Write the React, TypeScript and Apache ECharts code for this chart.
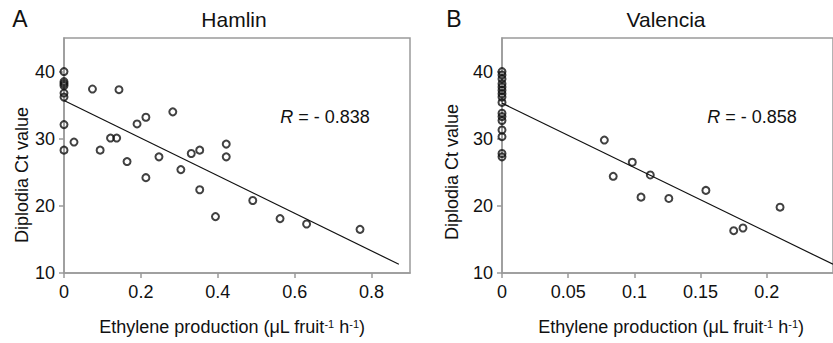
import React, { useEffect, useRef } from "react";
import * as echarts from "echarts";

const hamlinX = [0, 0, 0, 0, 0, 0, 0, 0, 0.026, 0.074, 0.143, 0.094, 0.121, 0.137, 0.164, 0.19, 0.213, 0.213, 0.247, 0.283, 0.304, 0.331, 0.353, 0.353, 0.394, 0.422, 0.422, 0.491, 0.562, 0.631, 0.77];
const hamlinY = [40, 38.5, 38.2, 37.9, 36.8, 36.2, 32.1, 28.3, 29.5, 37.4, 37.3, 28.3, 30.1, 30.1, 26.6, 32.2, 33.2, 24.2, 27.3, 34.0, 25.4, 27.8, 28.3, 22.4, 18.4, 29.2, 27.3, 20.8, 18.1, 17.3, 16.5];
const valenciaX = [0, 0, 0, 0, 0, 0, 0, 0, 0, 0, 0, 0, 0, 0, 0, 0, 0.0773, 0.084, 0.0984, 0.105, 0.112, 0.126, 0.154, 0.175, 0.182, 0.21];
const valenciaY = [40.0, 39.5, 38.9, 38.2, 37.7, 37.2, 36.7, 36.2, 35.4, 33.8, 33.3, 32.7, 31.3, 30.3, 27.8, 27.3, 29.8, 24.4, 26.5, 21.3, 24.6, 21.1, 22.3, 16.3, 16.7, 19.8];
const hamlinFitX = [0, 0.871];
const hamlinFitY = [35.7, 11.3];
const valenciaFitX = [0, 0.25];
const valenciaFitY = [35.3, 11.3];
const titles = ["Hamlin", "Valencia"];
const panelLetters = ["A", "B"];
const rLabels = ["-0.838", "-0.858"];
const yName = "Diplodia Ct value";

const FONT = "Liberation Sans, Arial, sans-serif";
const TXT = "#111";
const AX = "#9a9a9a";

function pairs(xs: number[], ys: number[]) {
  return xs.map((x, i) => [x, ys[i]]);
}

export default function App() {
  const ref = useRef<HTMLDivElement>(null);
  useEffect(() => {
    document.body.style.margin = "0";
    const chart = echarts.init(ref.current!, null, { renderer: "svg" });
    const xAxisCommon = {
      type: "value" as const,
      min: 0,
      splitLine: { show: false },
      axisLine: { show: true, lineStyle: { color: AX, width: 1.5 } },
      axisTick: { show: true, inside: false, length: 5, lineStyle: { color: AX, width: 1.5 } },
      axisLabel: { color: TXT, fontSize: 18, fontFamily: FONT, margin: 10, showMaxLabel: false },
    };
    const yAxisCommon = {
      type: "value" as const,
      min: 10,
      max: 45,
      interval: 10,
      splitLine: { show: false },
      axisLine: { show: true, lineStyle: { color: AX, width: 1.5 } },
      axisTick: { show: true, inside: false, length: 5, lineStyle: { color: AX, width: 1.5 } },
      axisLabel: { color: TXT, fontSize: 18, fontFamily: FONT, margin: 9, showMaxLabel: false },
    };
    const scatterStyle = {
      type: "scatter" as const,
      symbol: "circle",
      symbolSize: 7,
      itemStyle: { color: "rgba(0,0,0,0)", borderColor: "#111", borderWidth: 2 },
    };
    const lineStyle = {
      type: "line" as const,
      symbol: "none",
      lineStyle: { color: "#111", width: 1.2 },
    };
    const xNameRich = {
      text: "{a|Ethylene production (μL fruit}{s|-1}{a| h}{s|-1}{a|)}",
      rich: {
        a: { fontSize: 18, fontFamily: FONT, fill: TXT, color: TXT },
        s: { fontSize: 11, fontFamily: FONT, fill: TXT, color: TXT, verticalAlign: "top" },
      },
    };
    const text = (x: number, y: number, t: string, size: number, extra: any = {}) => ({
      type: "text",
      x,
      y,
      style: {
        text: t,
        fontSize: size,
        fontFamily: FONT,
        fill: TXT,
        align: "center",
        verticalAlign: "middle",
        textAlign: "center",
        textVerticalAlign: "middle",
        ...extra,
      },
    });
    const rRich = (v: string) => ({
      text: `{i|R}{a| = ${v.replace("-", "- ")}}`,
      rich: {
        i: { fontSize: 18, fontFamily: FONT, fontStyle: "italic", fill: TXT, color: TXT },
        a: { fontSize: 18, fontFamily: FONT, fill: TXT, color: TXT },
      },
    });
    chart.setOption({
      animation: false,
      grid: [
        { left: 64, top: 38, width: 346, height: 235, show: true, borderColor: AX, borderWidth: 1.5, backgroundColor: "transparent" },
        { left: 502, top: 38, width: 370, height: 235, show: true, borderColor: AX, borderWidth: 1.5, backgroundColor: "transparent" },
      ],
      xAxis: [
        { ...xAxisCommon, gridIndex: 0, max: 0.9, interval: 0.2 },
        { ...xAxisCommon, gridIndex: 1, max: 0.25, interval: 0.05 },
      ],
      yAxis: [
        { ...yAxisCommon, gridIndex: 0 },
        { ...yAxisCommon, gridIndex: 1 },
      ],
      series: [
        { ...lineStyle, xAxisIndex: 0, yAxisIndex: 0, data: pairs(hamlinFitX, hamlinFitY) },
        { ...scatterStyle, xAxisIndex: 0, yAxisIndex: 0, data: pairs(hamlinX, hamlinY) },
        { ...lineStyle, xAxisIndex: 1, yAxisIndex: 1, data: pairs(valenciaFitX, valenciaFitY) },
        { ...scatterStyle, xAxisIndex: 1, yAxisIndex: 1, data: pairs(valenciaX, valenciaY) },
      ],
      graphic: [
        text(20, 19, panelLetters[0], 23),
        text(454, 19, panelLetters[1], 23),
        text(234, 19, titles[0], 21),
        text(666, 19, titles[1], 21),
        { ...text(22, 175, yName, 18), rotation: Math.PI / 2 },
        { ...text(452, 172, yName, 18), rotation: Math.PI / 2 },
        text(232, 327, "", 18, xNameRich),
        text(671, 327, "", 18, xNameRich),
        text(325, 117, "", 18, rRich(rLabels[0])),
        text(752, 117, "", 18, rRich(rLabels[1])),
      ],
    });
    return () => chart.dispose();
  }, []);
  return <div ref={ref} style={{ width: 833, height: 343 }} />;
}
